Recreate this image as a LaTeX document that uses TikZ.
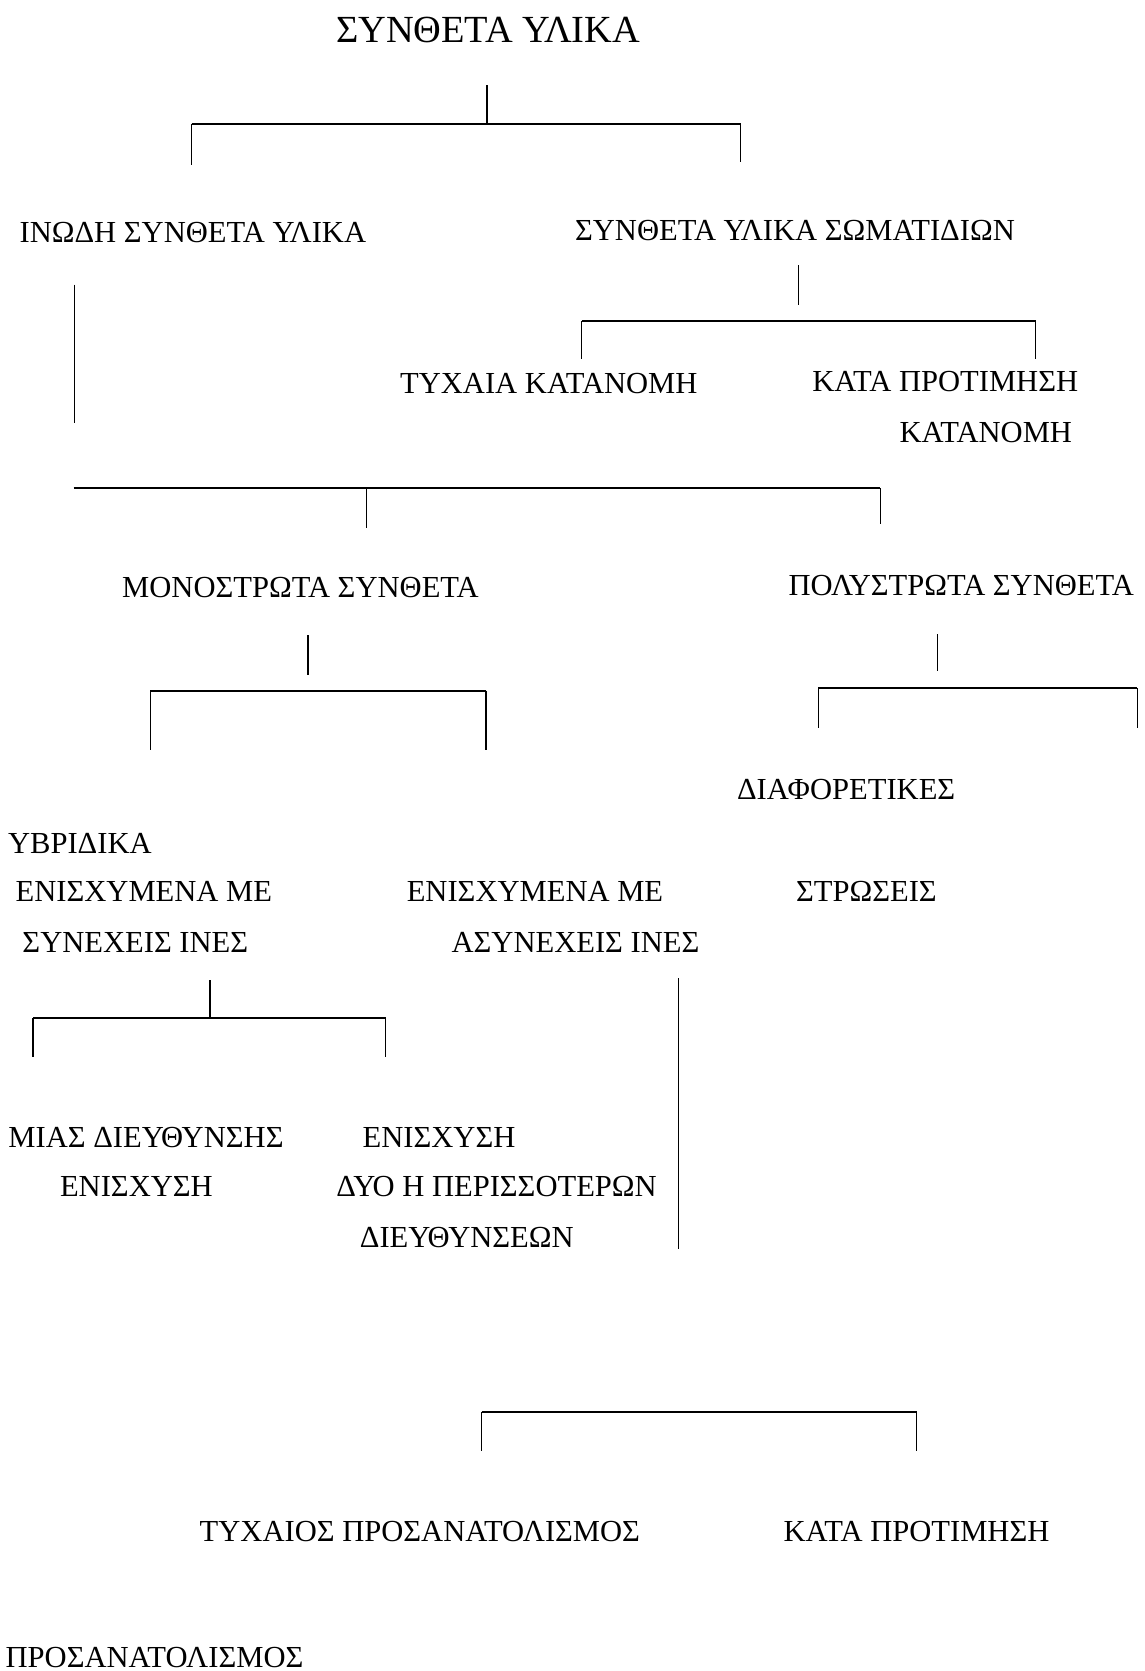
\documentclass[tikz,border=0pt]{standalone}
\usepackage{fontspec}
\setmainfont{Liberation Serif}

\begin{document}
\begin{tikzpicture}[x=0.025cm,y=0.025cm]
\tikzstyle{every node}+=[inner sep=0pt, font=\fontsize{20.4}{24}\selectfont]
\tikzstyle{bar}=[black, line width=1.4pt]
\tikzstyle{stem}=[black, line width=0.8pt]
\useasboundingbox (0,0) rectangle (1074,-1568);
% labels
\node[font=\fontsize{25.6}{30}\selectfont] (composites) at (458,-28) {ΣΥΝΘΕΤΑ ΥΛΙΚΑ};
\node (fibrous) at (181,-218) {ΙΝΩΔΗ ΣΥΝΘΕΤΑ ΥΛΙΚΑ};
\node (particles) at (746,-216) {ΣΥΝΘΕΤΑ ΥΛΙΚΑ ΣΩΜΑΤΙΔΙΩΝ};
\node (randdist) at (515,-360) {ΤΥΧΑΙΑ ΚΑΤΑΝΟΜΗ};
\node (prefdist) at (887,-358) {ΚΑΤΑ ΠΡΟΤΙΜΗΣΗ};
\node (prefdistb) at (925,-406) {ΚΑΤΑΝΟΜΗ};
\node (mono) at (282,-551) {ΜΟΝΟΣΤΡΩΤΑ ΣΥΝΘΕΤΑ};
\node (multi) at (902,-549) {ΠΟΛΥΣΤΡΩΤΑ ΣΥΝΘΕΤΑ};
\node (diff) at (794,-741) {ΔΙΑΦΟΡΕΤΙΚΕΣ};
\node (layers) at (813,-836) {ΣΤΡΩΣΕΙΣ};
\node (hybrid) at (75,-791) {ΥΒΡΙΔΙΚΑ};
\node (cont) at (135,-836) {ΕΝΙΣΧΥΜΕΝΑ ΜΕ};
\node (contb) at (127,-884) {ΣΥΝΕΧΕΙΣ ΙΝΕΣ};
\node (disc) at (502,-836) {ΕΝΙΣΧΥΜΕΝΑ ΜΕ};
\node (discb) at (540,-884) {ΑΣΥΝΕΧΕΙΣ ΙΝΕΣ};
\node (unidir) at (137,-1067) {ΜΙΑΣ ΔΙΕΥΘΥΝΣΗΣ};
\node (unidirb) at (128,-1113) {ΕΝΙΣΧΥΣΗ};
\node (multidir) at (412,-1067) {ΕΝΙΣΧΥΣΗ};
\node (multidirb) at (466,-1113) {ΔΥΟ Η ΠΕΡΙΣΣΟΤΕΡΩΝ};
\node (multidirc) at (438,-1161) {ΔΙΕΥΘΥΝΣΕΩΝ};
\node (randor) at (394,-1437) {ΤΥΧΑΙΟΣ ΠΡΟΣΑΝΑΤΟΛΙΣΜΟΣ};
\node (prefor) at (860,-1437) {ΚΑΤΑ ΠΡΟΤΙΜΗΣΗ};
\node (prefort) at (145,-1555) {ΠΡΟΣΑΝΑΤΟΛΙΣΜΟΣ};
% bracket under the title
\coordinate (a0) at (457,-80);
\coordinate (a1) at (457,-116);
\coordinate (al) at (180,-116);
\coordinate (ar) at (695,-116);
\coordinate (ald) at (180,-155);
\coordinate (ard) at (695,-152);
\draw [stem] (a0) -- (a1);
\draw [bar] (al) -- (ar);
\draw [stem] (al) -- (ald);
\draw [stem] (ar) -- (ard);
% particles
\coordinate (b0) at (749,-249);
\coordinate (b1) at (749,-286);
\coordinate (bl) at (546,-301);
\coordinate (br) at (972,-301);
\coordinate (bld) at (546,-337);
\coordinate (brd) at (972,-337);
\draw [stem] (b0) -- (b1);
\draw [bar] (bl) -- (br);
\draw [stem] (bl) -- (bld);
\draw [stem] (br) -- (brd);
% fibrous
\coordinate (c0) at (70,-267);
\coordinate (c1) at (70,-397);
\coordinate (cl) at (69,-458);
\coordinate (cm) at (344,-458);
\coordinate (cr) at (826,-458);
\coordinate (cmd) at (344,-495);
\coordinate (crd) at (826,-492);
\draw [stem] (c0) -- (c1);
\draw [bar] (cl) -- (cr);
\draw [stem] (cm) -- (cmd);
\draw [stem] (cr) -- (crd);
% single layer
\coordinate (d0) at (289,-596);
\coordinate (d1) at (289,-633);
\coordinate (dl) at (141,-648);
\coordinate (dr) at (456,-648);
\coordinate (dld) at (141,-704);
\coordinate (drd) at (456,-704);
\draw [stem] (d0) -- (d1);
\draw [bar] (dl) -- (dr);
\draw [stem] (dl) -- (dld);
\draw [stem] (dr) -- (drd);
% multi layer
\coordinate (e0) at (880,-595);
\coordinate (e1) at (880,-630);
\coordinate (el) at (768,-646);
\coordinate (er) at (1067,-646);
\coordinate (eld) at (768,-683);
\coordinate (erd) at (1067,-683);
\draw [stem] (e0) -- (e1);
\draw [bar] (el) -- (er);
\draw [stem] (el) -- (eld);
\draw [stem] (er) -- (erd);
% continuous fibres
\coordinate (f0) at (197,-920);
\coordinate (fl) at (31,-955);
\coordinate (fm) at (197,-955);
\coordinate (fr) at (362,-955);
\coordinate (fld) at (31,-992);
\coordinate (frd) at (362,-992);
\draw [stem] (f0) -- (fm);
\draw [bar] (fl) -- (fr);
\draw [stem] (fl) -- (fld);
\draw [stem] (fr) -- (frd);
% discontinuous fibres
\coordinate (g0) at (637,-918);
\coordinate (g1) at (637,-1172);
\draw [stem] (g0) -- (g1);
\coordinate (hl) at (452,-1325);
\coordinate (hr) at (860,-1325);
\coordinate (hld) at (452,-1362);
\coordinate (hrd) at (860,-1362);
\draw [bar] (hl) -- (hr);
\draw [stem] (hl) -- (hld);
\draw [stem] (hr) -- (hrd);
\end{tikzpicture}
\end{document}
